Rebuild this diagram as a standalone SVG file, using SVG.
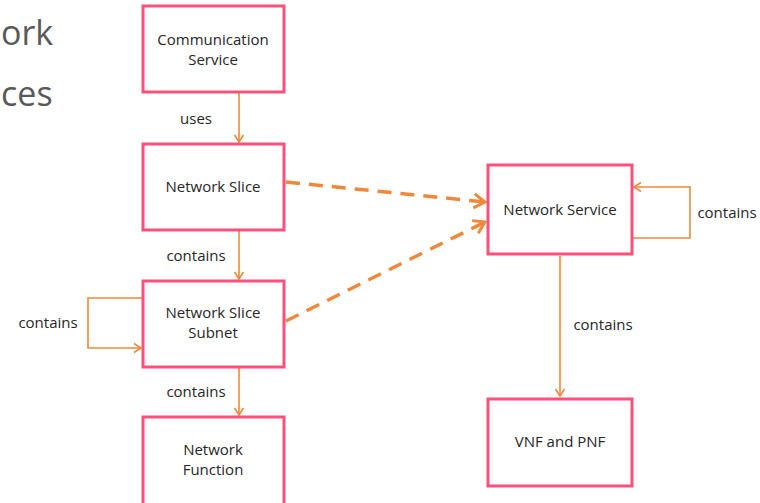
<svg xmlns="http://www.w3.org/2000/svg" width="760" height="503" viewBox="0 0 760 503">
<defs>
<style>
.box{fill:#fff;stroke:#FF4F7B;stroke-width:3}
.lbl{font-family:"Open Sans","Liberation Sans",sans-serif;font-size:15px;fill:#262626;text-anchor:middle}
.edge{fill:none;stroke:#F0883A;stroke-width:1.6}
.dash{fill:none;stroke:#F0883A;stroke-width:3.5;stroke-dasharray:14,9}
.big{font-family:"Open Sans","Liberation Sans",sans-serif;font-size:34px;fill:#595959}
</style>
<marker id="ah" markerWidth="12" markerHeight="12" refX="9" refY="6" orient="auto" markerUnits="userSpaceOnUse">
<path d="M2,1.5 L9,6 L2,10.5" fill="none" stroke="#F0883A" stroke-width="1.6"/>
</marker>
<marker id="ahd" markerWidth="20" markerHeight="20" refX="15" refY="10" orient="auto" markerUnits="userSpaceOnUse">
<path d="M4,3 L15,10 L4,17" fill="none" stroke="#F0883A" stroke-width="3"/>
</marker>
</defs>
<rect width="760" height="503" fill="#fff"/>
<text class="big" x="1" y="45">ork</text>
<text class="big" x="1" y="106">ces</text>
<g id="connectors">
<path class="edge" d="M239,93 V142" marker-end="url(#ah)"/>
<path class="edge" d="M239,231 V279" marker-end="url(#ah)"/>
<path class="edge" d="M239,368 V415" marker-end="url(#ah)"/>
<path class="edge" d="M143,298 H88 V348 H141" marker-end="url(#ah)"/>
<path class="edge" d="M633,238 H690 V187 H634" marker-end="url(#ah)"/>
<path class="edge" d="M560,256 V396" marker-end="url(#ah)"/>
<path class="dash" d="M286,182 L485,202" marker-end="url(#ahd)"/>
<path class="dash" d="M286,321 L485,222" marker-end="url(#ahd)"/>
<text class="lbl" x="196" y="124">uses</text>
<text class="lbl" x="196" y="261">contains</text>
<text class="lbl" x="196" y="397">contains</text>
<text class="lbl" x="48" y="328">contains</text>
<text class="lbl" x="727" y="218">contains</text>
<text class="lbl" x="603" y="330">contains</text>
</g>
<g id="communication-service">
<rect class="box" x="143" y="6" width="141" height="86"/>
<text class="lbl" x="213" y="45">Communication</text>
<text class="lbl" x="213" y="65">Service</text>
</g>
<g id="network-slice">
<rect class="box" x="143" y="144" width="141" height="86"/>
<text class="lbl" x="213" y="192">Network Slice</text>
</g>
<g id="network-slice-subnet">
<rect class="box" x="143" y="281" width="141" height="86"/>
<text class="lbl" x="213" y="318">Network Slice</text>
<text class="lbl" x="213" y="338">Subnet</text>
</g>
<g id="network-function">
<rect class="box" x="143" y="417" width="141" height="88"/>
<text class="lbl" x="213" y="455">Network</text>
<text class="lbl" x="213" y="475">Function</text>
</g>
<g id="network-service">
<rect class="box" x="488" y="165" width="144" height="89"/>
<text class="lbl" x="560" y="215">Network Service</text>
</g>
<g id="vnf-pnf">
<rect class="box" x="488" y="399" width="144" height="87"/>
<text class="lbl" x="560" y="447">VNF and PNF</text>
</g>
</svg>
